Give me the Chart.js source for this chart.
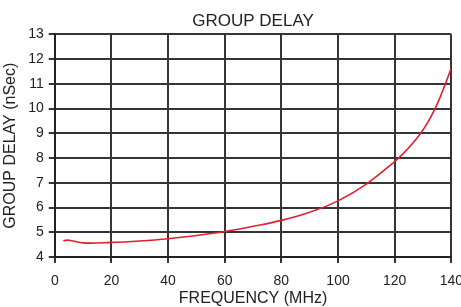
<!DOCTYPE html>
<html>
<head>
<meta charset="utf-8">
<script src="https://cdn.jsdelivr.net/npm/chart.js@4"></script>
<style>
  html,body{margin:0;padding:0;background:#fff;overflow:hidden;}
  #wrap{width:461px;height:307px;overflow:hidden;}
  #box{width:473px;height:307px;}
</style>
</head>
<body>
<div id="wrap"><div id="box"><canvas id="gd"></canvas></div></div>
<script>
/* ── DATA ── */
const freqMHz  = [3, 5, 10, 20, 30, 40, 50, 60, 70, 80, 90, 100, 110, 120, 123, 126, 129, 132, 135, 138, 140];
const delayNs  = [4.66, 4.68, 4.57, 4.59, 4.65, 4.74, 4.87, 5.03, 5.24, 5.48, 5.81, 6.27, 6.95, 7.86, 8.18, 8.55, 8.97, 9.50, 10.18, 11.03, 11.64];
const xTicks   = [0, 20, 40, 60, 80, 100, 120, 140];
const yTicks   = [4, 5, 6, 7, 8, 9, 10, 11, 12, 13];

const ink = '#222';
const gridCol = '#353535';
const font = 'Liberation Sans, Arial, sans-serif';

new Chart(document.getElementById('gd').getContext('2d'), {
  type: 'line',
  data: {
    datasets: [{
      data: freqMHz.map((f, i) => ({x: f, y: delayNs[i]})),
      borderColor: '#e0202e', borderWidth: 1.6,
      pointRadius: 0, tension: 0.4, fill: false
    }]
  },
  options: {
    responsive: true, maintainAspectRatio: false, animation: false,
    layout: {padding: {left: 0, top: 0, right: 0, bottom: 0}},
    plugins: {legend: {display: false}, tooltip: {enabled: false}, title: {display: false}},
    scales: {
      x: {
        type: 'linear', min: xTicks[0], max: xTicks[xTicks.length - 1],
        afterBuildTicks: s => { s.ticks = xTicks.map(v => ({value: v})); },
        afterFit: s => { s.height = 50; },   // labels + title packed tighter than the default
        grid: {color: gridCol, lineWidth: 2, tickLength: 6, tickColor: gridCol},
        border: {display: true, color: ink, width: 2},
        ticks: {color: ink, font: {family: font, size: 14}, padding: 10, maxRotation: 0},
        title: {display: true, text: 'FREQUENCY (MHz)', color: ink,
                font: {family: font, size: 16, lineHeight: 1}, padding: {top: 0, bottom: 0}}
      },
      xTop: {
        type: 'linear', position: 'top', min: 0, max: 1,
        grid: {display: false, drawTicks: false}, border: {display: false},
        ticks: {display: false},
        title: {display: true, text: 'GROUP DELAY', color: ink,
                font: {family: font, size: 17}, padding: {top: 11, bottom: 3}}
      },
      y: {
        min: yTicks[0], max: yTicks[yTicks.length - 1],
        afterBuildTicks: s => { s.ticks = yTicks.map(v => ({value: v})); },
        grid: {color: gridCol, lineWidth: 2, tickLength: 6, tickColor: gridCol},
        border: {display: true, color: ink, width: 2},
        ticks: {color: ink, font: {family: font, size: 14}, padding: 5},
        title: {display: true, text: 'GROUP DELAY (nSec)', color: ink,
                font: {family: font, size: 16}, padding: {top: 1, bottom: 3}}
      }
    }
  }
});
</script>
</body>
</html>
